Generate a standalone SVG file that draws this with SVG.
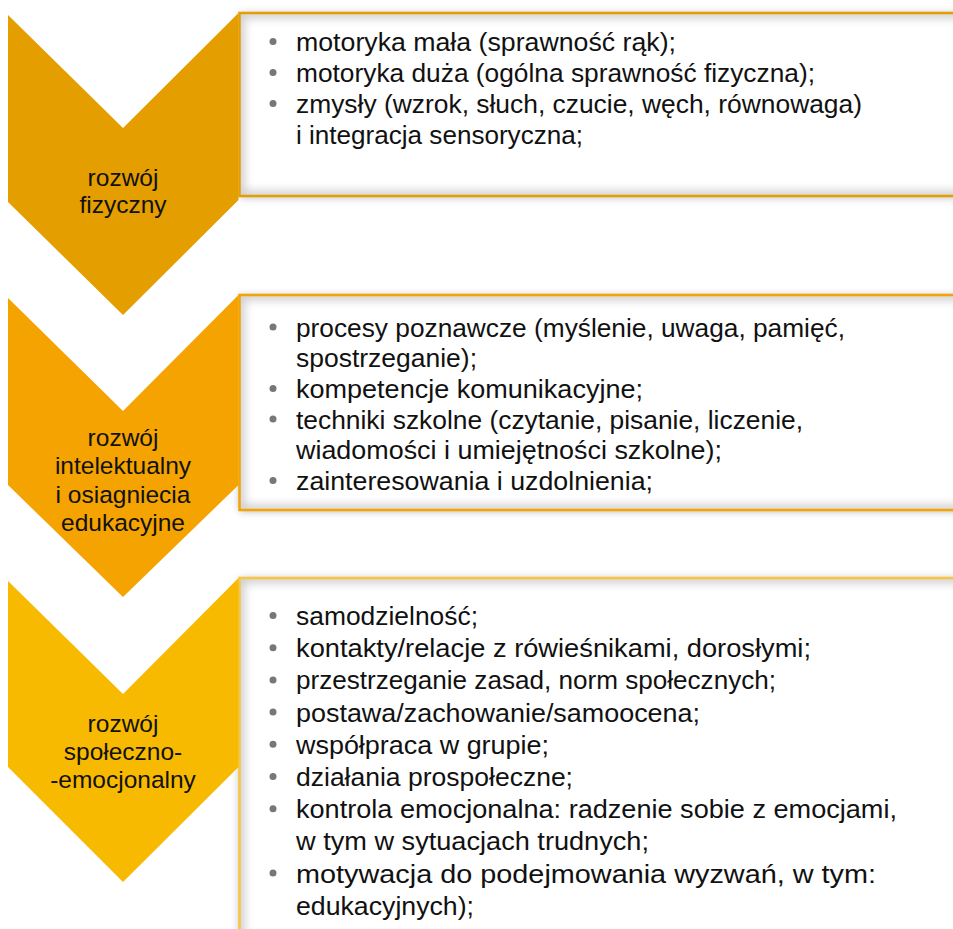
<svg xmlns="http://www.w3.org/2000/svg" width="953" height="929" viewBox="0 0 953 929">
<defs>
<style>
.lbl{font-family:"Liberation Sans",Arial,sans-serif;font-size:24.5px;fill:#111;text-anchor:middle}
.txt{font-family:"Liberation Sans",Arial,sans-serif;font-size:26.5px;fill:#111}
.bul{fill:#777}
.boxfill{fill:#fff}
.ish{fill:none;stroke:#000;stroke-opacity:.2;stroke-width:10}
</style>
<filter id="outer" x="-10%" y="-20%" width="120%" height="140%">
<feGaussianBlur in="SourceAlpha" stdDeviation="4"/>
<feOffset dy="1"/>
<feComponentTransfer><feFuncA type="linear" slope="0.3"/></feComponentTransfer>
<feMerge><feMergeNode/><feMergeNode in="SourceGraphic"/></feMerge>
</filter>
<filter id="blur" x="-10%" y="-20%" width="120%" height="140%"><feGaussianBlur stdDeviation="5"/></filter>
<clipPath id="c1"><rect x="239.5" y="13" width="740" height="183"/></clipPath>
<clipPath id="c2"><rect x="239.5" y="295" width="740" height="215"/></clipPath>
<clipPath id="c3"><rect x="239.5" y="578" width="740" height="400"/></clipPath>
</defs>

<g id="box1">
<rect class="boxfill" x="239.5" y="13" width="740" height="183" filter="url(#outer)"/>
<rect class="ish" x="239.5" y="13" width="740" height="183" filter="url(#blur)" clip-path="url(#c1)"/>
<rect x="239.5" y="13" width="740" height="183" fill="none" stroke="#E59E00" stroke-width="2.5"/>
<circle class="bul" cx="273" cy="41.5" r="3.5"/>
<circle class="bul" cx="273" cy="72.5" r="3.5"/>
<circle class="bul" cx="273" cy="103.5" r="3.5"/>
<text class="txt" x="296" y="51" textLength="380" lengthAdjust="spacingAndGlyphs">motoryka mała (sprawność rąk);</text>
<text class="txt" x="296" y="82" textLength="519" lengthAdjust="spacingAndGlyphs">motoryka duża (ogólna sprawność fizyczna);</text>
<text class="txt" x="296" y="113" textLength="566" lengthAdjust="spacingAndGlyphs">zmysły (wzrok, słuch, czucie, węch, równowaga)</text>
<text class="txt" x="296" y="144" textLength="287" lengthAdjust="spacingAndGlyphs">i integracja sensoryczna;</text>
</g>

<g id="box2">
<rect class="boxfill" x="239.5" y="295" width="740" height="215" filter="url(#outer)"/>
<rect class="ish" x="239.5" y="295" width="740" height="215" filter="url(#blur)" clip-path="url(#c2)"/>
<rect x="239.5" y="295" width="740" height="215" fill="none" stroke="#F4A300" stroke-width="2.5"/>
<circle class="bul" cx="273" cy="327" r="3.5"/>
<circle class="bul" cx="273" cy="388.5" r="3.5"/>
<circle class="bul" cx="273" cy="419" r="3.5"/>
<circle class="bul" cx="273" cy="480.5" r="3.5"/>
<text class="txt" x="296" y="336.5" textLength="549" lengthAdjust="spacingAndGlyphs">procesy poznawcze (myślenie, uwaga, pamięć,</text>
<text class="txt" x="296" y="367" textLength="181" lengthAdjust="spacingAndGlyphs">spostrzeganie);</text>
<text class="txt" x="296" y="398" textLength="347" lengthAdjust="spacingAndGlyphs">kompetencje komunikacyjne;</text>
<text class="txt" x="296" y="428.5" textLength="507" lengthAdjust="spacingAndGlyphs">techniki szkolne (czytanie, pisanie, liczenie,</text>
<text class="txt" x="296" y="459" textLength="426" lengthAdjust="spacingAndGlyphs">wiadomości i umiejętności szkolne);</text>
<text class="txt" x="296" y="490" textLength="357" lengthAdjust="spacingAndGlyphs">zainteresowania i uzdolnienia;</text>
</g>

<g id="box3">
<rect class="boxfill" x="239.5" y="578" width="740" height="400" filter="url(#outer)"/>
<rect class="ish" x="239.5" y="578" width="740" height="400" filter="url(#blur)" clip-path="url(#c3)"/>
<rect x="239.5" y="578" width="740" height="400" fill="none" stroke="#F9C440" stroke-width="2.5"/>
<circle class="bul" cx="273" cy="615.5" r="3.5"/>
<circle class="bul" cx="273" cy="647.7" r="3.5"/>
<circle class="bul" cx="273" cy="679.9" r="3.5"/>
<circle class="bul" cx="273" cy="712.1" r="3.5"/>
<circle class="bul" cx="273" cy="744.3" r="3.5"/>
<circle class="bul" cx="273" cy="776.5" r="3.5"/>
<circle class="bul" cx="273" cy="808.7" r="3.5"/>
<circle class="bul" cx="273" cy="873.1" r="3.5"/>
<text class="txt" x="296" y="625" textLength="182" lengthAdjust="spacingAndGlyphs">samodzielność;</text>
<text class="txt" x="296" y="657.2" textLength="515" lengthAdjust="spacingAndGlyphs">kontakty/relacje z rówieśnikami, dorosłymi;</text>
<text class="txt" x="296" y="689.4" textLength="480" lengthAdjust="spacingAndGlyphs">przestrzeganie zasad, norm społecznych;</text>
<text class="txt" x="296" y="721.6" textLength="404" lengthAdjust="spacingAndGlyphs">postawa/zachowanie/samoocena;</text>
<text class="txt" x="296" y="753.8" textLength="253" lengthAdjust="spacingAndGlyphs">współpraca w grupie;</text>
<text class="txt" x="296" y="786" textLength="277" lengthAdjust="spacingAndGlyphs">działania prospołeczne;</text>
<text class="txt" x="296" y="818.2" textLength="601" lengthAdjust="spacingAndGlyphs">kontrola emocjonalna: radzenie sobie z emocjami,</text>
<text class="txt" x="296" y="850.4" textLength="353" lengthAdjust="spacingAndGlyphs">w tym w sytuacjach trudnych;</text>
<text class="txt" x="296" y="882.6" textLength="580" lengthAdjust="spacingAndGlyphs">motywacja do podejmowania wyzwań, w tym:</text>
<text class="txt" x="296" y="914.8" textLength="178" lengthAdjust="spacingAndGlyphs">edukacyjnych);</text>
</g>

<g id="chevron1">
<polygon points="8,15 123,128 238.5,13 238.5,200 123,315 8,202" fill="#E59E00"/>
<text class="lbl" x="123" y="185.5">rozwój</text>
<text class="lbl" x="123" y="212.5">fizyczny</text>
</g>

<g id="chevron2">
<polygon points="8,298 123,411 238.5,295 238.5,485 123,597 8,485" fill="#F4A300"/>
<text class="lbl" x="123" y="445.5">rozwój</text>
<text class="lbl" x="123" y="474">intelektualny</text>
<text class="lbl" x="123" y="502.5">i osiagniecia</text>
<text class="lbl" x="123" y="531">edukacyjne</text>
</g>

<g id="chevron3">
<polygon points="8,581 123,694 238.5,578 238.5,767 123,882 8,767" fill="#F8BA00"/>
<text class="lbl" x="123" y="732">rozwój</text>
<text class="lbl" x="123" y="760">społeczno-</text>
<text class="lbl" x="123" y="788">-emocjonalny</text>
</g>

<g id="connectors"></g>
</svg>
